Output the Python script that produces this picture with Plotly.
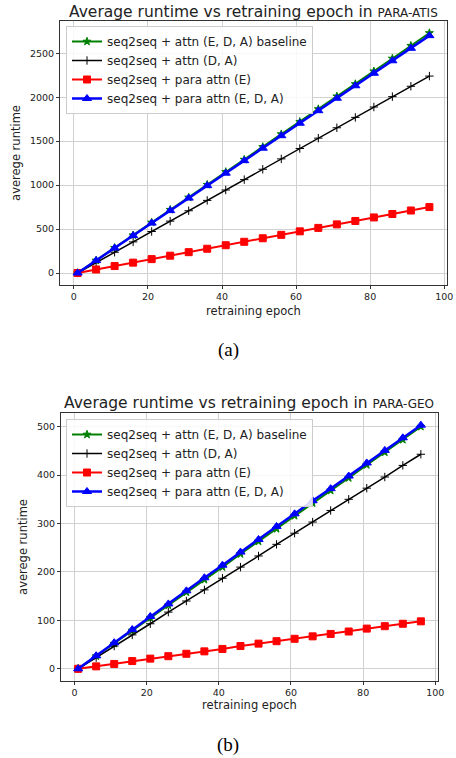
import plotly.graph_objects as go

epochs = [1, 6, 11, 16, 21, 26, 31, 36, 41, 46, 51, 56, 61, 66, 71, 76, 81, 86, 91, 96]

# PARA-ATIS
atis_baseline = [0, 143, 287, 430, 575, 720, 860, 1005, 1150, 1290, 1435, 1580, 1720, 1865, 2010, 2150, 2295, 2440, 2585, 2730]
atis_attn_da = [0, 118, 236, 354, 472, 590, 708, 826, 944, 1062, 1180, 1298, 1416, 1534, 1652, 1770, 1888, 2006, 2124, 2240]
atis_para_e = [0, 40, 79, 118, 158, 197, 237, 276, 316, 355, 395, 434, 474, 513, 553, 592, 632, 671, 711, 750]
atis_para_eda = [0, 142, 284, 426, 568, 710, 852, 994, 1136, 1278, 1420, 1562, 1704, 1846, 1988, 2130, 2272, 2414, 2556, 2700]

# PARA-GEO
geo_baseline = [0, 26, 52, 79, 105, 131, 158, 184, 210, 237, 263, 289, 316, 342, 368, 394, 421, 447, 473, 500]
geo_attn_da = [0, 23, 47, 70, 93, 117, 140, 163, 187, 210, 233, 257, 280, 303, 327, 350, 373, 396, 420, 443]
geo_para_e = [0, 5, 10, 16, 21, 26, 31, 36, 41, 47, 52, 57, 62, 67, 72, 77, 83, 88, 93, 98]
geo_para_eda = [0, 27, 54, 81, 108, 134, 161, 188, 214, 241, 267, 294, 320, 347, 372, 398, 425, 451, 477, 503]

series_names = ["seq2seq + attn (E, D, A) baseline", "seq2seq + attn (D, A)",
                "seq2seq + para attn (E)", "seq2seq + para attn (E, D, A)"]
titles = ["Average runtime vs retraining epoch in ", "Average runtime vs retraining epoch in "]
dataset_names = ["PARA-ATIS", "PARA-GEO"]
captions = ["(a)", "(b)"]
x_ticks = [0, 20, 40, 60, 80, 100]
atis_yticks = [0, 500, 1000, 1500, 2000, 2500]
geo_yticks = [0, 100, 200, 300, 400, 500]

W, H = 456, 758
MR = 8  # right margin (px) so the last tick label is not hidden
PW = W - MR
FONT = "DejaVu Sans"

styles = [
    dict(color="green", width=2, symbol="star", size=6),
    dict(color="black", width=1.5, symbol="cross-thin", size=6),
    dict(color="red", width=2, symbol="square", size=7),
    dict(color="blue", width=2.5, symbol="triangle-up", size=8),
]

fig = go.Figure()

def px_x(p):
    return p / PW

def px_y(p):
    return 1 - p / H

panels = [
    dict(data=[atis_baseline, atis_attn_da, atis_para_e, atis_para_eda],
         xd=[px_x(60), px_x(447)], yd=[px_y(285), px_y(21)],
         xr=[-3.75, 100.75], yr=[-136.5, 2866.5], yt=atis_yticks,
         xa="x", ya="y", leg="legend", title_y=12, cap_y=350, leg_top=26,
         xstand=5),
    dict(data=[geo_baseline, geo_attn_da, geo_para_e, geo_para_eda],
         xd=[px_x(61), px_x(438)], yd=[px_y(681), px_y(413)],
         xr=[-3.75, 100.75], yr=[-25.2, 528.2], yt=geo_yticks,
         xa="x2", ya="y2", leg="legend2", title_y=403, cap_y=745, leg_top=419,
         xstand=2),
]

for i, p in enumerate(panels):
    for name, vals, st in zip(series_names, p["data"], styles):
        fig.add_trace(go.Scatter(
            x=epochs, y=vals, name=name, mode="lines+markers",
            line=dict(color=st["color"], width=st["width"]),
            marker=dict(symbol=st["symbol"], size=st["size"], color=st["color"],
                        line=dict(color=st["color"], width=1)),
            xaxis=p["xa"], yaxis=p["ya"], legend=p["leg"]))

axis_common = dict(showgrid=True, gridcolor="#d0d0d0", gridwidth=1, zeroline=False,
                   showline=True, linecolor="#333333", linewidth=1, mirror=True,
                   ticks="outside", ticklen=3, tickcolor="#333333",
                   ticklabeloverflow="allow",
                   tickfont=dict(family=FONT, size=9.5, color="#222222"))

layout = dict(width=W, height=H, margin=dict(l=0, r=MR, t=0, b=0, autoexpand=False),
              paper_bgcolor="white", plot_bgcolor="white", showlegend=True)

for i, p in enumerate(panels):
    sx = "" if i == 0 else "2"
    layout["xaxis" + sx] = dict(axis_common, domain=p["xd"], range=p["xr"],
                                tickvals=x_ticks, anchor=p["ya"],
                                title=dict(text="retraining epoch", standoff=p["xstand"],
                                           font=dict(family=FONT, size=11.5, color="#222222")))
    layout["yaxis" + sx] = dict(axis_common, domain=p["yd"], range=p["yr"],
                                tickvals=p["yt"], anchor=p["xa"],
                                title=dict(text="averege runtime", standoff=6,
                                           font=dict(family=FONT, size=11.5, color="#222222")))
    layout[p["leg"]] = dict(x=px_x(66), y=px_y(p["leg_top"]), xanchor="left", yanchor="top",
                            bgcolor="rgba(255,255,255,0.85)", bordercolor="#cccccc", borderwidth=1,
                            font=dict(family=FONT, size=12, color="#222222"),
                            tracegroupgap=0, itemwidth=30)

fig.update_layout(**layout)

for i, p in enumerate(panels):
    cx = (p["xd"][0] + p["xd"][1]) / 2
    fig.add_annotation(
        x=cx, y=px_y(p["title_y"]), xref="paper", yref="paper", showarrow=False,
        xanchor="center", yanchor="middle",
        text=titles[i] + "<span style='font-size:12px'>" + dataset_names[i] + "</span>",
        font=dict(family=FONT, size=15.5, color="#222222"))
    fig.add_annotation(
        x=px_x(228), y=px_y(p["cap_y"]), xref="paper", yref="paper", showarrow=False,
        xanchor="center", yanchor="middle", text=captions[i],
        font=dict(family="Liberation Serif", size=19, color="black"))

fig.write_html("out.html", config={"displayModeBar": False},
               post_script="document.body.style.margin='0';document.body.style.overflow='hidden';")
